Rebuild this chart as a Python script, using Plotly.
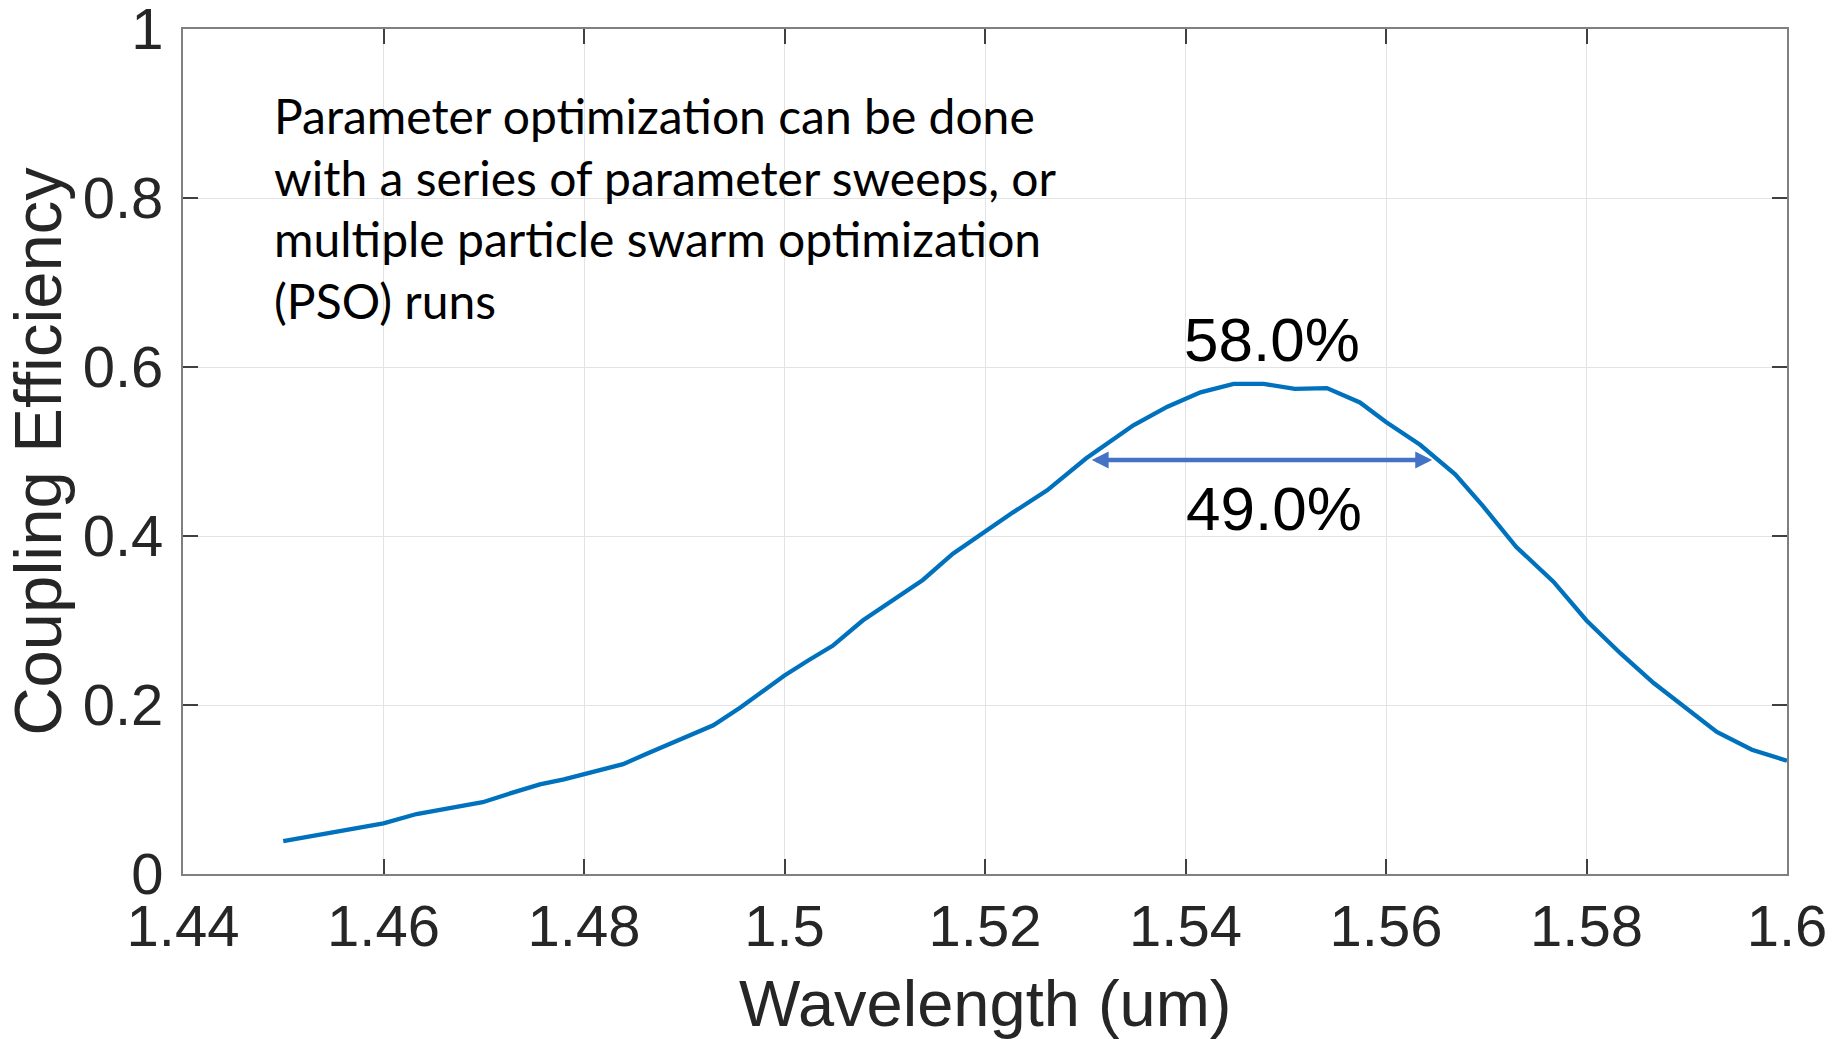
import plotly.graph_objects as go

# Simulated grating-coupler spectrum
wavelength_um = [
    1.4500, 1.4533, 1.4566, 1.4600, 1.4633, 1.4666, 1.4699, 1.4728, 1.4756, 1.4780,
    1.4800, 1.4839, 1.4862, 1.4886, 1.4908, 1.4929, 1.4956, 1.4985, 1.5000, 1.5024,
    1.5048, 1.5078, 1.5108, 1.5138, 1.5168, 1.5200, 1.5228, 1.5262, 1.5301, 1.5348,
    1.5382, 1.5415, 1.5448, 1.5478, 1.5509, 1.5541, 1.5574, 1.5600, 1.5634, 1.5669,
    1.5697, 1.5730, 1.5767, 1.5800, 1.5834, 1.5867, 1.5897, 1.5930, 1.5965, 1.6000,
]
coupling_eff = [
    0.039, 0.046, 0.053, 0.060, 0.071, 0.078, 0.085, 0.096, 0.106, 0.112,
    0.118, 0.130, 0.142, 0.154, 0.165, 0.176, 0.197, 0.222, 0.235, 0.253,
    0.270, 0.300, 0.324, 0.348, 0.379, 0.405, 0.428, 0.454, 0.492, 0.531,
    0.553, 0.570, 0.580, 0.580, 0.574, 0.575, 0.558, 0.535, 0.508, 0.473,
    0.435, 0.387, 0.346, 0.300, 0.261, 0.226, 0.198, 0.168, 0.147, 0.134,
]

# Band marker (double-headed arrow) level and its end wavelengths
band_level = 0.49
band_lo_um = 1.5305
band_hi_um = 1.5646

x_ticks = [1.44, 1.46, 1.48, 1.50, 1.52, 1.54, 1.56, 1.58, 1.60]
x_tick_labels = ["1.44", "1.46", "1.48", "1.5", "1.52", "1.54", "1.56", "1.58", "1.6"]
y_ticks = [0, 0.2, 0.4, 0.6, 0.8, 1.0]
y_tick_labels = ["0", "0.2", "0.4", "0.6", "0.8", "1"]

x_title = "Wavelength (um)"
y_title = "Coupling Efficiency"

note_lines = [
    "Parameter optimization can be done",
    "with a series of parameter sweeps, or",
    "multiple particle swarm optimization",
    "(PSO) runs",
]
note_line_y = [0.898, 0.8245, 0.752, 0.679]

peak_eff = max(coupling_eff)
peak_label = f"{peak_eff * 100:.1f}%"
band_label = f"{band_level * 100:.1f}%"

AX_FONT = "Liberation Sans, Arial, Helvetica, sans-serif"
NOTE_FONT = "Lato, Carlito, Calibri, sans-serif"
LINE_BLUE = "#0072BD"
ARROW_BLUE = "#4472C4"

fig = go.Figure()
fig.add_trace(go.Scatter(
    x=wavelength_um, y=coupling_eff, mode="lines",
    line=dict(color=LINE_BLUE, width=4.3), showlegend=False, hoverinfo="skip",
))

annotations = []
for text, yy in zip(note_lines, note_line_y):
    annotations.append(dict(
        x=1.4489, y=yy, xref="x", yref="y", text=text, showarrow=False,
        xanchor="left", yanchor="middle",
        font=dict(family=NOTE_FONT, size=48, color="#000000"),
    ))

# peak and band labels
annotations.append(dict(
    x=1.5486, y=0.633, xref="x", yref="y", text=peak_label, showarrow=False,
    xanchor="center", yanchor="middle",
    font=dict(family=AX_FONT, size=62, color="#000000"),
))
annotations.append(dict(
    x=1.5488, y=0.432, xref="x", yref="y", text=band_label, showarrow=False,
    xanchor="center", yanchor="middle",
    font=dict(family=AX_FONT, size=62, color="#000000"),
))

# double-headed arrow spanning the band
annotations.append(dict(
    x=band_hi_um, y=band_level, ax=band_lo_um, ay=band_level,
    xref="x", yref="y", axref="x", ayref="y", text="",
    showarrow=True, arrowhead=2, startarrowhead=2, arrowside="end+start",
    arrowwidth=4.5, arrowsize=0.75, startarrowsize=0.75,
    arrowcolor=ARROW_BLUE, standoff=0, startstandoff=0,
))

# x-axis title, placed below the tick labels
annotations.append(dict(
    x=0.5, y=-0.1531, xref="paper", yref="paper", text=x_title, showarrow=False,
    xanchor="center", yanchor="middle",
    font=dict(family=AX_FONT, size=65, color="#262626"),
))

axis_common = dict(
    showline=True, linecolor="#808080", linewidth=2, mirror="ticks",
    ticks="inside", ticklen=15, tickwidth=1.5, tickcolor="#404040",
    showgrid=True, gridcolor="#e3e3e3", gridwidth=1,
    zeroline=False, ticklabeloverflow="allow",
    tickfont=dict(family=AX_FONT, size=58, color="#262626"),
)

fig.update_layout(
    width=1847, height=1039,
    margin=dict(l=183, r=60, t=29, b=165, autoexpand=False),
    paper_bgcolor="white", plot_bgcolor="white",
    annotations=annotations,
    xaxis=dict(
        range=[1.44, 1.6], tickvals=x_ticks, ticktext=x_tick_labels,
        automargin=False,
        **axis_common,
    ),
    yaxis=dict(
        range=[0, 1], tickvals=y_ticks, ticktext=y_tick_labels,
        ticklabelstandoff=6,
        title=dict(text=y_title, standoff=2,
                   font=dict(family=AX_FONT, size=67, color="#262626")),
        automargin=False,
        **axis_common,
    ),
)

fig.write_html("out.html")
